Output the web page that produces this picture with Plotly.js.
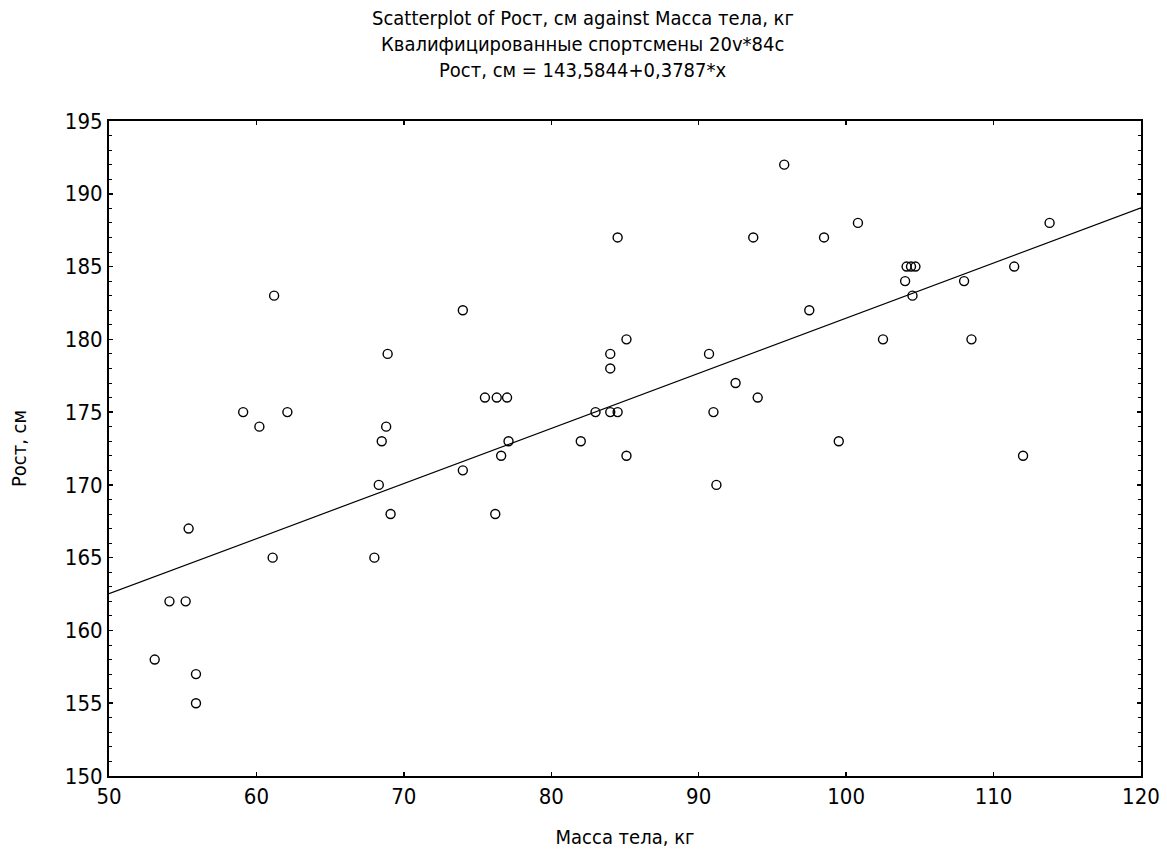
<!DOCTYPE html>
<html>
<head>
<meta charset="utf-8">
<script src="https://cdn.plot.ly/plotly-3.0.1.min.js"></script>
<style>
html,body{margin:0;padding:0;background:#fff;}
#chart{width:1167px;height:861px;}
</style>
</head>
<body>
<div id="chart"></div>
<script>
// Data
const massKg = [53.1, 54.1, 55.2, 55.4, 55.9, 55.9, 59.1, 60.2, 61.2, 61.1, 62.1,
  68.0, 68.3, 68.5, 68.8, 68.9, 69.1, 74.0, 74.0, 75.5, 76.3, 77.0, 76.2, 76.6, 77.1,
  82.0, 83.0, 84.0, 84.5, 84.0, 84.0, 84.5, 85.1, 85.1, 90.7, 91.0, 91.2, 92.5,
  93.7, 94.0, 95.8, 97.5, 98.5, 99.5, 100.8, 102.5, 104.0, 104.1, 104.4, 104.7,
  104.5, 108.0, 108.5, 111.4, 112.0, 113.8];
const heightCm = [158, 162, 162, 167, 157, 155, 175, 174, 183, 165, 175,
  165, 170, 173, 174, 179, 168, 182, 171, 176, 176, 176, 168, 172, 173,
  173, 175, 175, 175, 179, 178, 187, 180, 172, 179, 175, 170, 177,
  187, 176, 192, 182, 187, 173, 188, 180, 184, 185, 185, 185,
  183, 184, 180, 185, 172, 188];
// Regression line endpoints (Рост, см = 143,5844 + 0,3787*x) read at the plot edges
const fitX = [50, 120];
const fitY = [162.52, 189.03];

const titleLines = [
  'Scatterplot of Рост, см against Масса тела, кг',
  'Квалифицированные спортсмены 20v*84c',
  'Рост, см = 143,5844+0,3787*x'
];
const xTitle = 'Масса тела, кг';
const yTitle = 'Рост, см';

const FONT = '"Liberation Sans Narrow", "DejaVu Sans Condensed", "Liberation Sans", sans-serif';

const traces = [
  {
    x: massKg, y: heightCm, type: 'scatter', mode: 'markers',
    marker: {symbol: 'circle-open', size: 9, color: '#000', line: {width: 1.4, color: '#000'}},
    hoverinfo: 'x+y', showlegend: false
  },
  {
    x: fitX, y: fitY, type: 'scatter', mode: 'lines',
    line: {color: '#000', width: 1.2}, hoverinfo: 'skip', showlegend: false
  }
];

const axisCommon = {
  showgrid: false, zeroline: false, showline: true, linecolor: '#000', linewidth: 2,
  mirror: 'ticks', ticks: 'inside', ticklen: 4, tickwidth: 1.5, tickcolor: '#000',
  tickfont: {family: FONT, size: 22, color: '#000'}
};

const titleY = [1.157, 1.117, 1.078];
const annotations = titleLines.map((t, i) => ({
  text: t, xref: 'paper', yref: 'paper', x: 0.459, y: titleY[i],
  xanchor: 'center', yanchor: 'middle', showarrow: false,
  font: {family: FONT, size: 20, color: '#000'}
}));

const layout = {
  width: 1167, height: 861,
  paper_bgcolor: '#fff', plot_bgcolor: '#fff',
  margin: {l: 109, r: 26, t: 121, b: 85, pad: 0},
  font: {family: FONT, color: '#000'},
  annotations: annotations,
  xaxis: Object.assign({}, axisCommon, {
    range: [50, 120], tick0: 50, dtick: 10,
    title: {text: xTitle, font: {family: FONT, size: 20, color: '#000'}, standoff: 22}
  }),
  yaxis: Object.assign({}, axisCommon, {
    range: [150, 195], tick0: 150, dtick: 5,
    minor: {dtick: 1, ticks: 'inside', ticklen: 3, tickcolor: '#000', tickwidth: 1, showgrid: false},
    title: {text: yTitle, font: {family: FONT, size: 20, color: '#000'}, standoff: 33}
  })
};

Plotly.newPlot('chart', traces, layout, {displayModeBar: false, staticPlot: true});
</script>
</body>
</html>
